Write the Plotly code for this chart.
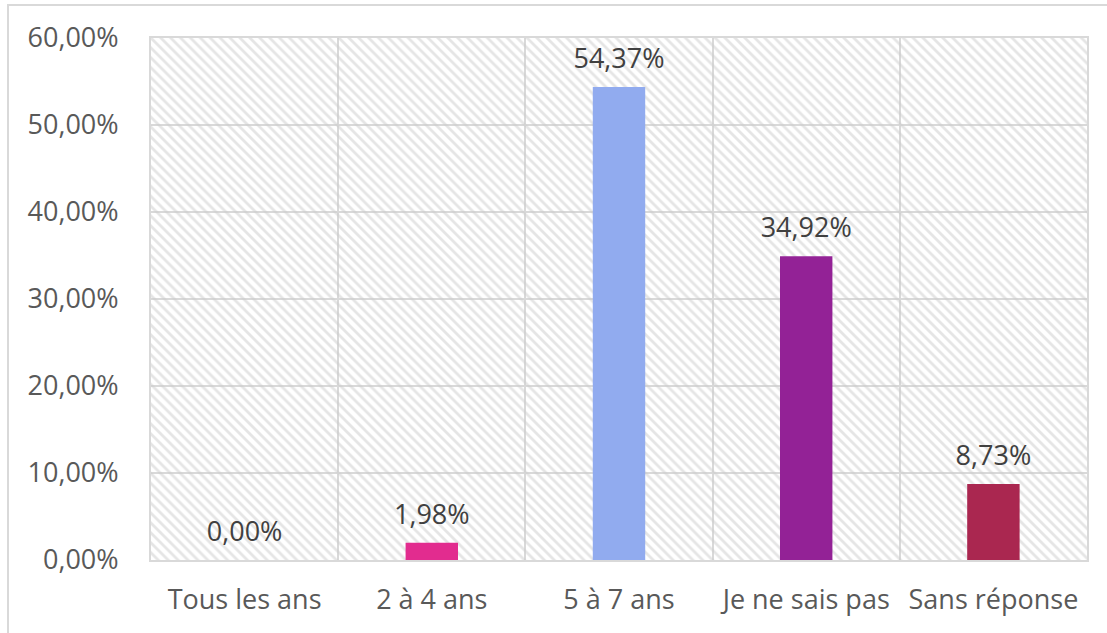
import plotly.graph_objects as go

categories = ["Tous les ans", "2 à 4 ans", "5 à 7 ans", "Je ne sais pas", "Sans réponse"]
values = [0.00, 1.98, 54.37, 34.92, 8.73]
bar_colors = ["#E22C8F", "#E22C8F", "#91ABEF", "#932296", "#AA2750"]
y_max = 60
y_ticks = [0, 10, 20, 30, 40, 50, 60]
y_ticktext = [f"{v:.2f}".replace(".", ",") + "%" for v in y_ticks]

W, H = 1107, 633
L, R, T, B = 151, 20, 38, 73
pw, ph = W - L - R, H - T - B
FONT = "Open Sans"

fig = go.Figure()

# hatched plot-area background
fig.add_trace(go.Bar(
    x=categories, y=[y_max] * len(categories), width=1,
    marker=dict(color="rgba(255,255,255,0)", line=dict(width=0),
                pattern=dict(shape="\\", fgcolor="#cccccc", bgcolor="rgba(255,255,255,0)",
                             size=7, solidity=0.4)),
    hoverinfo="skip", showlegend=False,
))

fig.add_trace(go.Bar(
    x=categories, y=values, width=0.28,
    marker=dict(color=bar_colors, line=dict(width=0)),
    showlegend=False,
))

# data labels
fig.add_trace(go.Scatter(
    x=categories, y=values, mode="markers+text",
    marker=dict(size=18, opacity=0),
    text=[f"{v:.2f}".replace(".", ",") + "%" for v in values],
    textposition="top center", cliponaxis=False,
    textfont=dict(family=FONT, size=27, color="#404040"),
    hoverinfo="skip", showlegend=False,
))

# outer chart border
fig.add_shape(type="rect", xref="paper", yref="paper",
              x0=(8 - L) / pw, x1=(W + 10 - L) / pw,
              y0=-(B + 10) / ph, y1=(H - B - 5) / ph,
              line=dict(color="#d9d9d9", width=2), fillcolor="rgba(0,0,0,0)", layer="below")

fig.update_layout(
    width=W, height=H,
    margin=dict(l=L, r=R, t=T, b=B),
    barmode="overlay",
    plot_bgcolor="white", paper_bgcolor="white",
    font=dict(family=FONT, color="#595959"),
    xaxis=dict(type="category", tickson="boundaries", showgrid=True, gridcolor="#d9d9d9",
               gridwidth=1.5, ticks="", showline=True, linecolor="#d9d9d9", linewidth=2,
               mirror=True, tickfont=dict(size=27, color="#595959"), ticklabelstandoff=15),
    yaxis=dict(range=[0, y_max], tickvals=y_ticks, ticktext=y_ticktext,
               showgrid=True, gridcolor="#d9d9d9", gridwidth=1.5, zeroline=False,
               showline=True, linecolor="#d9d9d9", linewidth=2, mirror=True,
               tickfont=dict(size=27, color="#595959"), ticklabelstandoff=25),
)

fig.write_html("out.html", config={"displayModeBar": False},
               post_script="document.body.style.margin='0px';")
